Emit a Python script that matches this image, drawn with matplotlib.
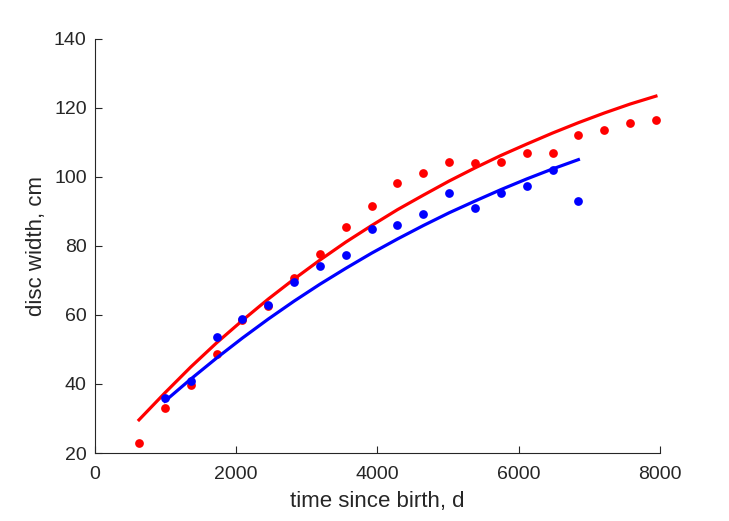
import matplotlib
matplotlib.use("Agg")
import matplotlib.pyplot as plt

# observed widths (red / blue groups), days since birth
red_t = [623, 989, 1355, 1721, 2087, 2453, 2819, 3185, 3551, 3917, 4283,
         4649, 5015, 5381, 5747, 6113, 6479, 6845, 7211, 7577, 7943]
red_w = [23.0, 33.1, 39.8, 48.8, 58.6, 62.5, 70.6, 77.8, 85.4, 91.6, 98.2,
         101.1, 104.4, 104.0, 104.4, 106.8, 106.8, 112.2, 113.5, 115.6, 116.6]

blue_t = [989, 1355, 1721, 2087, 2453, 2819, 3185, 3551, 3917, 4283,
          4649, 5015, 5381, 5747, 6113, 6479, 6845]
blue_w = [36.0, 40.9, 53.7, 58.8, 62.9, 69.4, 74.3, 77.4, 85.0, 86.0,
          89.2, 95.4, 90.9, 95.4, 97.5, 102.1, 93.1]

# fitted growth curves
red_fit = [29.6, 37.4, 44.9, 51.9, 58.4, 64.6, 70.4, 75.9, 81.1, 85.9, 90.5,
           94.7, 98.8, 102.6, 106.2, 109.5, 112.7, 115.7, 118.5, 121.1, 123.4]
blue_fit = [35.0, 41.4, 47.5, 53.3, 58.8, 64.0, 68.9, 73.5, 77.9, 82.0,
            85.9, 89.6, 93.0, 96.3, 99.4, 102.3, 105.0]

plt.rcParams['font.family'] = ['Liberation Sans', 'DejaVu Sans']
ink = '#262626'

fig = plt.figure(figsize=(7.29, 5.21), dpi=100)
ax = fig.add_axes([0.1303, 0.1305, 0.775, 0.795])

ax.plot(red_t, red_w, 'o', color='red', ms=6.3, mec='none')
ax.plot(red_t, red_fit, '-', color='red', lw=2.3)
ax.plot(blue_t, blue_w, 'o', color='blue', ms=6.3, mec='none')
ax.plot(blue_t, blue_fit, '-', color='blue', lw=2.3)

ax.set_xlim(0, 8000)
ax.set_ylim(20, 140)
ax.set_xticks([0, 2000, 4000, 6000, 8000])
ax.set_yticks([20, 40, 60, 80, 100, 120, 140])

for s in ['top', 'right']:
    ax.spines[s].set_visible(False)
for s in ['left', 'bottom']:
    ax.spines[s].set_color(ink)
    ax.spines[s].set_linewidth(0.8)
ax.tick_params(direction='in', length=5, width=0.8, colors=ink,
               labelsize=14, pad=6)
ax.tick_params(axis='x', pad=9)

ax.set_xlabel('time since birth, d', fontsize=16, color=ink, labelpad=6)
ax.set_ylabel('disc width, cm', fontsize=16, color=ink, labelpad=5)

fig.savefig('out.png', dpi=100)
